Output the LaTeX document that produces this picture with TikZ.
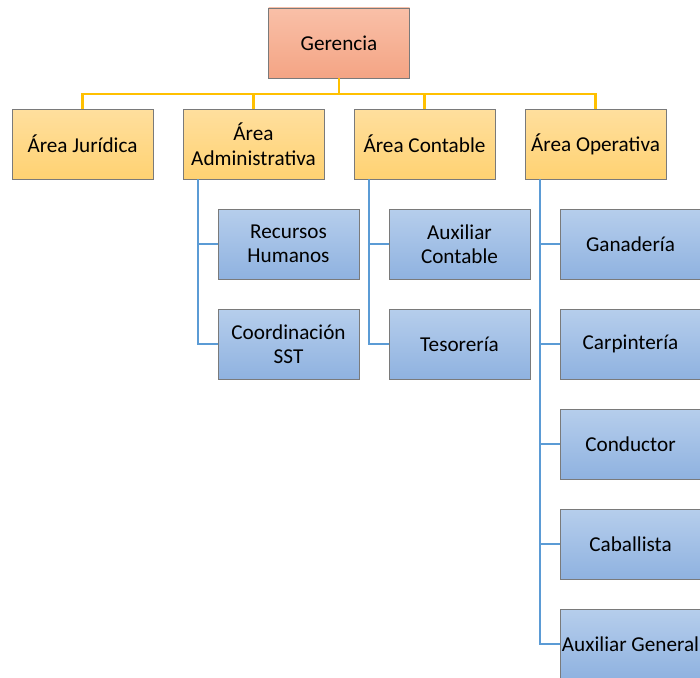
\documentclass[tikz,border=0pt]{standalone}
\usepackage{fontspec}
\setmainfont{Carlito}
\usepackage{tikz}
\usetikzlibrary{positioning}
\definecolor{gerarriba}{RGB}{249,192,168}
\definecolor{gerabajo}{RGB}{244,164,132}
\definecolor{areaarriba}{RGB}{255,223,158}
\definecolor{areaabajo}{RGB}{255,210,114}
\definecolor{cargoarriba}{RGB}{182,206,236}
\definecolor{cargoabajo}{RGB}{143,178,224}
\definecolor{borde}{RGB}{122,122,122}
\definecolor{amarillo}{RGB}{255,192,0}
\definecolor{azul}{RGB}{91,155,213}
\tikzset{
  caja/.style={draw=borde, line width=0.9pt, outer sep=0pt, minimum width=141pt, minimum height=70pt,
    inner xsep=0.5pt, align=center, font=\fontsize{21.2}{24.5}\selectfont},
  gerente/.style={caja, top color=gerarriba, bottom color=gerabajo},
  area/.style={caja, top color=areaarriba, bottom color=areaabajo},
  cargo/.style={caja, top color=cargoarriba, bottom color=cargoabajo},
  ramaA/.style={draw=amarillo, line width=2.8pt},
  ramaB/.style={draw=azul, line width=2.8pt},
  node distance=30pt
}
\begin{document}
\begin{tikzpicture}[x=1pt, y=1pt]
  \useasboundingbox (0,0) rectangle (700,-677);
  % Define nodes
  \node[gerente] (ger) at (339,-43) {Gerencia};
  \node[area] (jur) at (82.5,-144) {Área Jurídica};
  \node[area, right=of jur] (adm) {Área\\Administrativa};
  \node[area, right=of adm] (con) {Área Contable};
  \node[area, right=of con] (ope) {Área Operativa};
  \node[cargo, below=of adm, xshift=35pt] (rh) {Recursos\\Humanos};
  \node[cargo, below=of rh] (sst) {Coordinación\\SST};
  \node[cargo, below=of con, xshift=35pt] (aux) {Auxiliar\\Contable};
  \node[cargo, below=of aux] (tes) {Tesorería};
  \node[cargo, below=of ope, xshift=35pt] (gan) {Ganadería};
  \node[cargo, below=of gan] (car) {Carpintería};
  \node[cargo, below=of car] (cond) {Conductor};
  \node[cargo, below=of cond] (cab) {Caballista};
  \node[cargo, below=of cab] (ag) {Auxiliar General};
  % Connect the nodes
  \draw[ramaA] (ger.south) -- +(0,-16) -| (jur.north);
  \draw[ramaA] (ger.south) -- +(0,-16) -| (adm.north);
  \draw[ramaA] (ger.south) -- +(0,-16) -| (con.north);
  \draw[ramaA] (ger.south) -- +(0,-16) -| (ope.north);
  \foreach \jefe/\sub in {adm/rh, adm/sst, con/aux, con/tes, ope/gan, ope/car, ope/cond, ope/cab, ope/ag}
    \draw[ramaB] ([xshift=15pt]\jefe.south west) |- (\sub.west);
\end{tikzpicture}
\end{document}
